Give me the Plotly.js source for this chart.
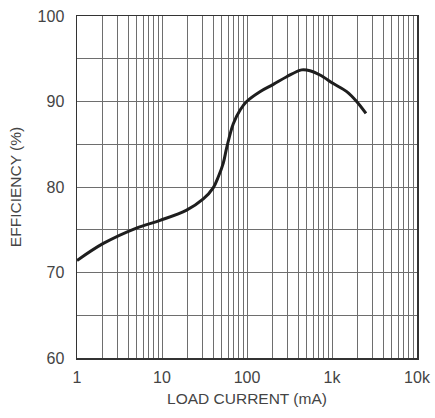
<!DOCTYPE html>
<html>
<head>
<meta charset="utf-8">
<script src="https://cdn.plot.ly/plotly-3.0.1.min.js"></script>
<style>html,body{margin:0;padding:0;background:#fff;}#chart{width:435px;height:418px;}</style>
</head>
<body>
<div id="chart"></div>
<script>
// Load current (mA)
const loadCurrent = [1, 2.04, 5, 9.5, 19.5, 30.6, 40, 46, 52.6, 58, 69, 83, 99, 142, 204, 293, 440, 551, 722, 1036, 1490, 1950, 2510];
// Efficiency (%)
const efficiency = [71.4, 73.4, 75.2, 76.1, 77.3, 78.6, 79.9, 81.2, 82.8, 84.7, 87.4, 89.0, 90.0, 91.15, 92.0, 92.9, 93.7, 93.6, 93.1, 92.1, 91.15, 90.0, 88.6];

// x grid: every 1..9 per decade, labels at decades
const xTickVals = [];
const xTickText = [];
const decadeLabels = {1: '1', 10: '10', 100: '100', 1000: '1k', 10000: '10k'};
[1, 10, 100, 1000].forEach(function (d) {
  for (let m = 1; m <= 9; m++) {
    const v = d * m;
    xTickVals.push(v);
    xTickText.push(decadeLabels[v] || '');
  }
});
xTickVals.push(10000); xTickText.push('10k');

const yTickVals = [60, 65, 70, 75, 80, 85, 90, 95, 100];
const yTickText = ['60', '', '70', '', '80', '', '90', '', '100'];

const fontFam = '"Liberation Sans Narrow", "Liberation Sans", Arial, sans-serif';
const txtColor = '#444444';

const trace = {
  x: loadCurrent,
  y: efficiency,
  type: 'scatter',
  mode: 'lines',
  line: {color: '#1e1e1e', width: 3, shape: 'spline', smoothing: 1},
  hoverinfo: 'skip'
};

const layout = {
  width: 435,
  height: 418,
  margin: {l: 77, r: 18, t: 16, b: 60},
  paper_bgcolor: '#ffffff',
  plot_bgcolor: '#ffffff',
  showlegend: false,
  font: {family: fontFam, size: 15.5, color: txtColor},
  xaxis: {
    type: 'log',
    range: [0, 4],
    tickvals: xTickVals,
    ticktext: xTickText,
    showgrid: true,
    gridcolor: '#6e6e6e',
    gridwidth: 1,
    showline: true,
    mirror: true,
    linecolor: '#333333',
    linewidth: 1.5,
    ticks: '',
    zeroline: false,
    ticklabelstandoff: 4,
    tickfont: {family: fontFam, size: 16, color: txtColor},
    title: {text: 'LOAD CURRENT (mA)', font: {family: fontFam, size: 15.5, color: txtColor}, standoff: 8}
  },
  yaxis: {
    range: [60, 100],
    tickvals: yTickVals,
    ticktext: yTickText,
    showgrid: true,
    gridcolor: '#6e6e6e',
    gridwidth: 1,
    showline: true,
    mirror: true,
    linecolor: '#333333',
    linewidth: 1.5,
    ticks: '',
    zeroline: false,
    ticklabelstandoff: 8,
    tickfont: {family: fontFam, size: 16, color: txtColor},
    title: {text: 'EFFICIENCY (%)', font: {family: fontFam, size: 15.5, color: txtColor}, standoff: 12}
  }
};

Plotly.newPlot('chart', [trace], layout, {displayModeBar: false, staticPlot: true});
</script>
</body>
</html>
